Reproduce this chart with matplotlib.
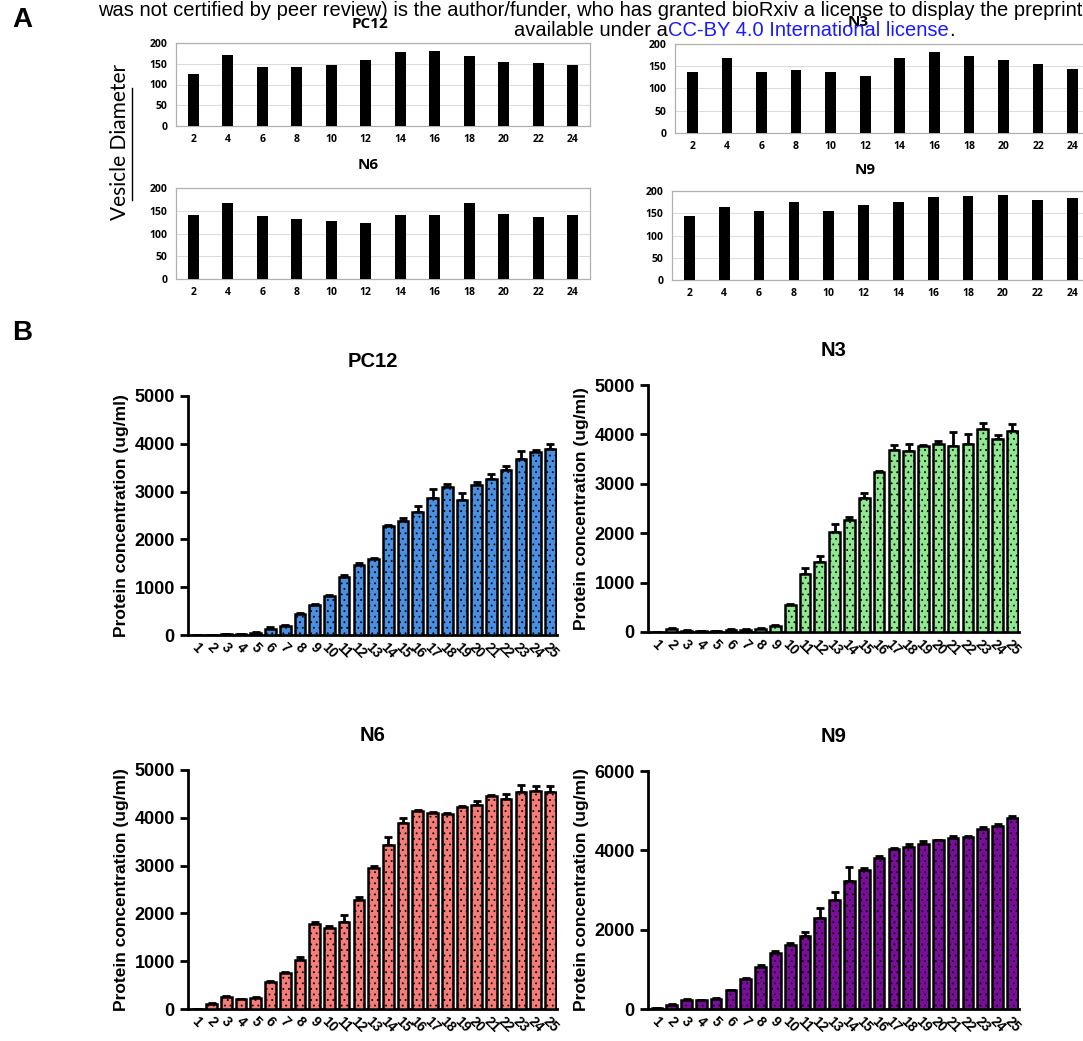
import matplotlib

matplotlib.use("Agg")
import matplotlib.pyplot as plt
import numpy as np

W, H = 1083, 1041

# ---- panel A: vesicle diameter (every 2nd fraction) ----
frac_a = [2, 4, 6, 8, 10, 12, 14, 16, 18, 20, 22, 24]
diam_pc12 = [125, 172, 142, 141, 146, 159, 178, 181, 169, 154, 151, 147]
diam_n3 = [136, 169, 138, 141, 136, 127, 168, 181, 174, 164, 155, 144]
diam_n6 = [140, 168, 138, 131, 127, 123, 140, 140, 166, 142, 136, 140]
diam_n9 = [144, 164, 154, 175, 155, 168, 175, 186, 189, 191, 179, 185]

# ---- panel B: protein concentration per fraction ----
frac_b = list(range(1, 26))
prot_pc12 = [0, 0, 15, 20, 50, 130, 180, 430, 620, 810, 1220, 1460, 1590, 2270, 2390,
             2580, 2860, 3090, 2820, 3130, 3260, 3450, 3690, 3820, 3890]
err_pc12 = [0, 0, 5, 5, 15, 30, 25, 30, 30, 30, 25, 45, 25, 35, 55,
            120, 200, 70, 150, 75, 100, 85, 150, 50, 100]
prot_n3 = [0, 70, 30, 25, 25, 45, 45, 65, 130, 540, 1180, 1420, 2030, 2270, 2720,
           3230, 3690, 3670, 3760, 3800, 3760, 3800, 4110, 3900, 4070]
err_n3 = [0, 15, 5, 5, 5, 10, 10, 10, 20, 20, 110, 110, 150, 60, 100,
          30, 90, 130, 25, 60, 280, 210, 130, 80, 140]
prot_n6 = [10, 110, 250, 200, 240, 570, 750, 1030, 1780, 1700, 1820, 2280, 2950, 3430, 3900,
           4150, 4100, 4080, 4220, 4260, 4450, 4400, 4530, 4570, 4540]
err_n6 = [0, 20, 30, 15, 20, 20, 20, 50, 50, 40, 140, 70, 35, 160, 90,
          20, 15, 15, 20, 100, 20, 90, 160, 90, 120]
prot_n9 = [15, 110, 220, 215, 260, 470, 760, 1050, 1420, 1620, 1830, 2300, 2740, 3230, 3500,
           3800, 4040, 4080, 4160, 4250, 4310, 4340, 4530, 4610, 4810]
err_n9 = [5, 15, 20, 10, 15, 20, 20, 60, 50, 40, 110, 240, 220, 350, 60,
          50, 30, 70, 70, 20, 50, 20, 60, 60, 60]


def box(l, t, r, b):
    return [l / W, 1 - b / H, (r - l) / W, (b - t) / H]


plt.rcParams["font.family"] = ["Liberation Sans", "DejaVu Sans"]
plt.rcParams["hatch.color"] = "black"
plt.rcParams["hatch.linewidth"] = 0.6

fig = plt.figure(figsize=(W / 100, H / 100), dpi=100)


def excel_panel(rect, vals, title, title_xy):
    ax = fig.add_axes(box(*rect))
    ax.bar(frac_a, vals, width=0.62, color="black", zorder=3)
    ax.set_xlim(1, 25)
    ax.set_ylim(0, 200)
    ax.set_yticks([0, 50, 100, 150, 200])
    ax.set_xticks(frac_a)
    ax.grid(axis="y", color="#dcdcdc", linewidth=0.8, zorder=0)
    for s in ax.spines.values():
        s.set_color("#b0b0b0")
        s.set_linewidth(0.9)
    ax.tick_params(length=0, labelsize=7.5, pad=6)
    for lab in ax.get_xticklabels() + ax.get_yticklabels():
        lab.set_fontweight("bold")
        lab.set_family(["Open Sans", "DejaVu Sans"])
    ax.tick_params(axis="x", pad=6)
    fig.text(title_xy[0] / W, 1 - title_xy[1] / H, title, ha="center", va="center",
             fontsize=11, fontweight="bold", family=["Open Sans", "DejaVu Sans"])
    return ax


excel_panel((176, 43, 590, 126), diam_pc12, "PC12", (370, 24))
excel_panel((675, 44, 1090, 133), diam_n3, "N3", (858, 22))
excel_panel((176, 188, 590, 279), diam_n6, "N6", (368, 165))
excel_panel((672, 191, 1090, 280), diam_n9, "N9", (865, 170))

fig.text(120 / W, 1 - 142 / H, "Vesicle Diameter", rotation=90, ha="center", va="center",
         fontsize=15, family=["Lato", "DejaVu Sans"])
fig.add_artist(plt.Line2D([132 / W, 132 / W], [1 - 88 / H, 1 - 200 / H],
                          color="black", linewidth=1.0))


def prism_panel(rect, vals, errs, color, title, yticks, ymax):
    ax = fig.add_axes(box(*rect))
    ax.bar(frac_b, vals, width=0.72, color=color, edgecolor="black",
           linewidth=1.8, hatch="...", zorder=3)
    ax.errorbar(frac_b, vals, yerr=[np.zeros(len(errs)), errs], fmt="none",
                ecolor="black", elinewidth=2, capsize=3.2, capthick=2, zorder=2)
    ax.set_xlim(0.4, 25.45)
    ax.set_ylim(0, ymax)
    ax.set_yticks(yticks)
    ax.set_xticks(frac_b)
    ax.set_xticklabels([str(f) for f in frac_b], rotation=-45, ha="center",
                       fontsize=10, fontweight="bold")
    for lab in ax.get_yticklabels():
        lab.set_fontweight("bold")
    ax.tick_params(axis="y", labelsize=13, length=6, width=2)
    ax.tick_params(axis="x", length=0, pad=4)
    for side in ("top", "right"):
        ax.spines[side].set_visible(False)
    for side in ("left", "bottom"):
        ax.spines[side].set_linewidth(2)
    ax.set_ylabel("Protein concentration (ug/ml)", fontsize=12.5, fontweight="bold", labelpad=4)
    ax.set_title(title, fontsize=14.5, fontweight="bold", pad=21)
    return ax


prism_panel((188, 396, 557, 635), prot_pc12, err_pc12, "#4a90e2", "PC12",
            [0, 1000, 2000, 3000, 4000, 5000], 5000)
prism_panel((648, 385, 1019, 632), prot_n3, err_n3, "#8fe88f", "N3",
            [0, 1000, 2000, 3000, 4000, 5000], 5000)
prism_panel((188, 770, 557, 1009), prot_n6, err_n6, "#f67c78", "N6",
            [0, 1000, 2000, 3000, 4000, 5000], 5000)
prism_panel((648, 771, 1019, 1009), prot_n9, err_n9, "#7b0c9c", "N9",
            [0, 2000, 4000, 6000], 6000)

# panel letters and bioRxiv banner
fig.text(22 / W, 1 - 20 / H, "A", fontsize=20, fontweight="bold", ha="center", va="center")
fig.text(22 / W, 1 - 333 / H, "B", fontsize=20, fontweight="bold", ha="center", va="center")
fig.text(98 / W, 1 - 10 / H,
         "was not certified by peer review) is the author/funder, who has granted bioRxiv "
         "a license to display the preprint",
         fontsize=14.5, ha="left", va="center")
fig.text(668 / W, 1 - 31 / H, "available under a", fontsize=14.5, ha="right", va="center")
lic = fig.text(668 / W, 1 - 31 / H, "CC-BY 4.0 International license", fontsize=14.5,
               ha="left", va="center", color="#1a1aff")
fig.canvas.draw()
bb = lic.get_window_extent()
fig.text(bb.x1 / W, 1 - 31 / H, ".", fontsize=14.5, ha="left", va="center")

fig.savefig("out.png", dpi=100)
